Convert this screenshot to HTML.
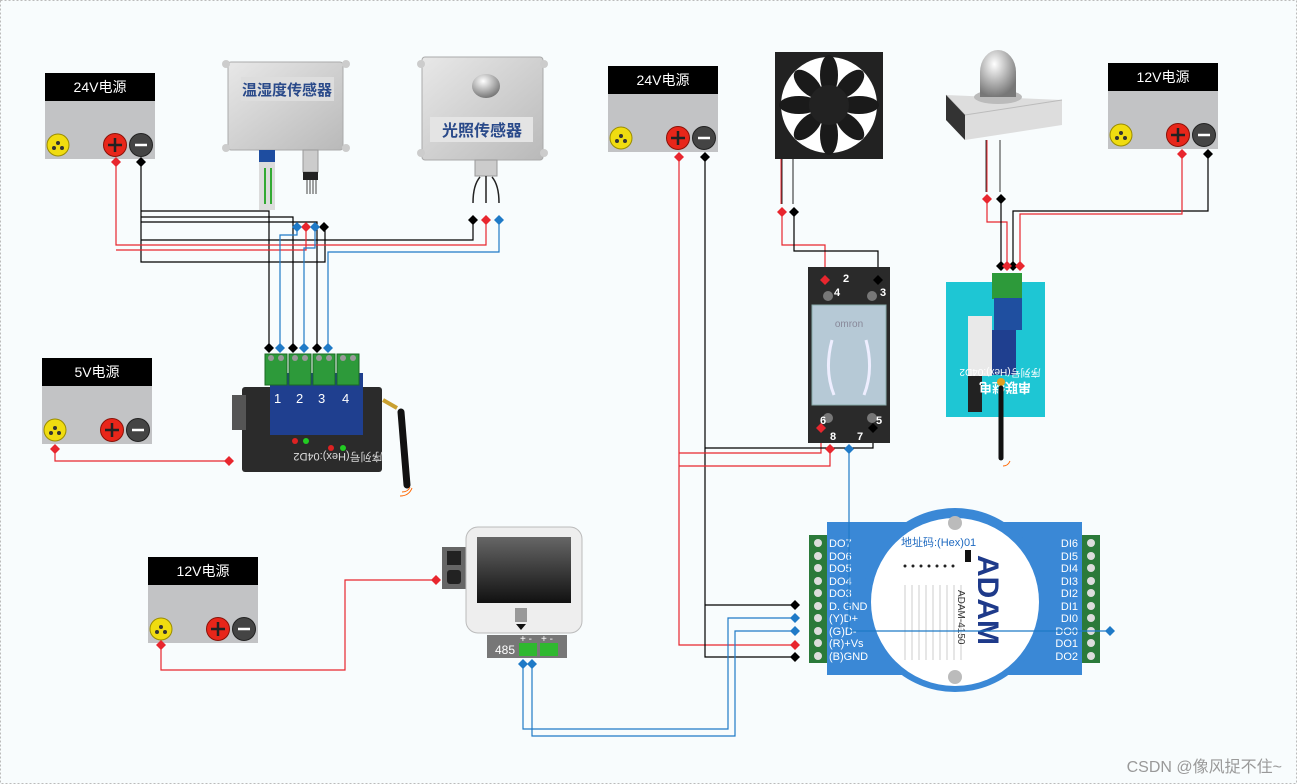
<!DOCTYPE html>
<html><head><meta charset="utf-8"><style>
html,body{margin:0;padding:0;background:#fff}
svg{display:block}
text{font-family:"Liberation Sans","Noto Sans CJK SC",sans-serif}
</style></head><body>
<svg width="1297" height="784" viewBox="0 0 1297 784" xmlns="http://www.w3.org/2000/svg">
<defs>
<linearGradient id="gs" x1="0" y1="0" x2="1" y2="1"><stop offset="0" stop-color="#e8e8e8"/><stop offset="1" stop-color="#b9b9b9"/></linearGradient>
<radialGradient id="ball" cx=".4" cy=".3" r=".7"><stop offset="0" stop-color="#fff"/><stop offset="1" stop-color="#777"/></radialGradient>
<linearGradient id="scr" x1="0" y1="0" x2="0" y2="1"><stop offset="0" stop-color="#666"/><stop offset="1" stop-color="#111"/></linearGradient>
<g id="psu">
<rect x="0" y="0" width="110" height="28" fill="#000"/>
<rect x="0" y="28" width="110" height="58" fill="#c2c3c5"/>
<circle cx="13" cy="72" r="11" fill="#f0dc10" stroke="#9a8c00"/>
<circle cx="13" cy="70" r="2" fill="#333"/><circle cx="9" cy="75" r="2" fill="#333"/><circle cx="17" cy="75" r="2" fill="#333"/>
<circle cx="70" cy="72" r="11.5" fill="#e8261a" stroke="#8a1208"/>
<path d="M63 72h14M70 65v14" stroke="#222" stroke-width="2.5"/>
<circle cx="96" cy="72" r="11.5" fill="#444" stroke="#222"/>
<path d="M90 72h12" stroke="#fff" stroke-width="2.5"/>
</g>
<path id="d" d="M0 -5L5 0L0 5L-5 0Z"/>
</defs>
<rect x="0" y="0" width="1297" height="784" fill="#f8fcfd"/>
<rect x="0.5" y="0.5" width="1296" height="783" fill="none" stroke="#bbb" stroke-dasharray="2 2"/>

<use href="#psu" x="45" y="73"/><text x="100" y="92" fill="#fff" font-size="14" text-anchor="middle">24V电源</text>
<use href="#psu" x="42" y="358"/><text x="97" y="377" fill="#fff" font-size="14" text-anchor="middle">5V电源</text>
<use href="#psu" x="148" y="557"/><text x="203" y="576" fill="#fff" font-size="14" text-anchor="middle">12V电源</text>
<use href="#psu" x="608" y="66"/><text x="663" y="85" fill="#fff" font-size="14" text-anchor="middle">24V电源</text>
<use href="#psu" x="1108" y="63"/><text x="1163" y="82" fill="#fff" font-size="14" text-anchor="middle">12V电源</text>

<!-- temp sensor -->
<rect x="228" y="62" width="115" height="88" rx="3" fill="url(#gs)" stroke="#aaa"/>
<circle cx="226" cy="64" r="4" fill="#ccc"/><circle cx="346" cy="64" r="4" fill="#ccc"/><circle cx="226" cy="148" r="4" fill="#ccc"/><circle cx="346" cy="148" r="4" fill="#ccc"/>
<rect x="241" y="77" width="93" height="24" fill="#ddd"/>
<text x="287" y="95" font-size="15" fill="#2a4a8a" text-anchor="middle" font-weight="bold">温湿度传感器</text>
<rect x="259" y="150" width="16" height="12" fill="#1e4da0"/>
<rect x="259" y="162" width="16" height="48" fill="#dcdcdc"/>
<rect x="264" y="168" width="2" height="36" fill="#3a3"/><rect x="270" y="168" width="2" height="36" fill="#3a3"/>
<rect x="303" y="150" width="15" height="22" fill="#ccc" stroke="#999"/>
<rect x="303" y="172" width="15" height="8" fill="#222"/>
<path d="M307 180v14M310 180v14M313 180v14M316 180v14" stroke="#444"/>

<!-- light sensor -->
<rect x="422" y="57" width="121" height="103" rx="3" fill="url(#gs)" stroke="#aaa"/>
<circle cx="421" cy="64" r="4" fill="#ccc"/><circle cx="544" cy="64" r="4" fill="#ccc"/><circle cx="421" cy="153" r="4" fill="#ccc"/><circle cx="544" cy="153" r="4" fill="#ccc"/>
<ellipse cx="486" cy="86" rx="14" ry="12" fill="url(#ball)"/>
<rect x="430" y="117" width="103" height="25" fill="#e4e4e4"/>
<text x="482" y="136" font-size="16" fill="#2a4a8a" text-anchor="middle" font-weight="bold">光照传感器</text>
<rect x="475" y="160" width="22" height="16" fill="#ccc" stroke="#999"/>
<path d="M473 203q0-18 7-26M486 203v-27M499 203q0-18-7-26" stroke="#222" fill="none" stroke-width="1.5"/>

<g fill="none" stroke-width="1.2">
<path d="M141 162V262H325V227" stroke="#000"/>
<path d="M141 211H269V348M141 217H293V348M141 222H317V348" stroke="#000"/>
<path d="M141 240H473V220" stroke="#000"/>
<path d="M116 162V245H486V220" stroke="#e8262e"/>
<path d="M116 250H306V227" stroke="#e8262e"/>
<path d="M297 227V235H280V348" stroke="#1f7ac7"/>
<path d="M315 227V248H304V348" stroke="#1f7ac7"/>
<path d="M499 220V252H328V348" stroke="#1f7ac7"/>
<path d="M55 449V461H229" stroke="#e8262e"/>
</g>
<g fill="#000"><use href="#d" x="141" y="162"/><use href="#d" x="324" y="227"/><use href="#d" x="473" y="220"/>
<use href="#d" x="269" y="348"/><use href="#d" x="293" y="348"/><use href="#d" x="317" y="348"/></g>
<g fill="#e8262e"><use href="#d" x="116" y="162"/><use href="#d" x="306" y="227"/><use href="#d" x="486" y="220"/><use href="#d" x="55" y="449"/><use href="#d" x="229" y="461"/></g>
<g fill="#1f7ac7"><use href="#d" x="297" y="227"/><use href="#d" x="315" y="227"/><use href="#d" x="499" y="220"/>
<use href="#d" x="280" y="348"/><use href="#d" x="304" y="348"/><use href="#d" x="328" y="348"/></g>

<!-- 4D2 board -->
<rect x="242" y="387" width="140" height="85" rx="3" fill="#2b2b2b"/>
<rect x="232" y="395" width="14" height="35" fill="#555"/>
<rect x="270" y="373" width="93" height="62" fill="#1f3f8f"/>
<g fill="#2d9a3a" stroke="#1a6a24"><rect x="265" y="354" width="22" height="31"/><rect x="289" y="354" width="22" height="31"/><rect x="313" y="354" width="22" height="31"/><rect x="337" y="354" width="22" height="31"/></g>
<g fill="#999"><circle cx="271" cy="358" r="3"/><circle cx="281" cy="358" r="3"/><circle cx="295" cy="358" r="3"/><circle cx="305" cy="358" r="3"/><circle cx="319" cy="358" r="3"/><circle cx="329" cy="358" r="3"/><circle cx="343" cy="358" r="3"/><circle cx="353" cy="358" r="3"/></g>
<g fill="#fff" font-size="13"><text x="274" y="403">1</text><text x="296" y="403">2</text><text x="318" y="403">3</text><text x="342" y="403">4</text></g>
<circle cx="295" cy="441" r="3" fill="#d22"/><circle cx="306" cy="441" r="3" fill="#2c2"/><circle cx="331" cy="448" r="3" fill="#d22"/><circle cx="343" cy="448" r="3" fill="#2c2"/>
<text x="338" y="461" fill="#ddd" font-size="11" text-anchor="middle" transform="rotate(180 338 457)">序列号(Hex):04D2</text>
<path d="M383 400l14 8" stroke="#c9a030" stroke-width="4"/>
<path d="M401 412L407 485" stroke="#111" stroke-width="7" stroke-linecap="round"/>
<path d="M402 492q6 0 8-5M400 496q9 0 12-8" stroke="#f60" fill="none"/>

<!-- fan -->
<rect x="775" y="52" width="108" height="107" fill="#222"/>
<circle cx="829" cy="105" r="48" fill="#fff"/>
<g fill="#1a1a1a"><ellipse cx="829" cy="75" rx="9" ry="20"/><ellipse cx="829" cy="135" rx="9" ry="20"/><ellipse cx="799" cy="105" rx="20" ry="9"/><ellipse cx="859" cy="105" rx="20" ry="9"/>
<ellipse cx="808" cy="84" rx="9" ry="18" transform="rotate(-45 808 84)"/><ellipse cx="850" cy="126" rx="9" ry="18" transform="rotate(-45 850 126)"/>
<ellipse cx="850" cy="84" rx="9" ry="18" transform="rotate(45 850 84)"/><ellipse cx="808" cy="126" rx="9" ry="18" transform="rotate(45 808 126)"/></g>
<circle cx="829" cy="105" r="20" fill="#222"/>
<path d="M782 159V204M793 159V204" stroke="#222"/><path d="M781 159V204" stroke="#e8262e"/>

<!-- alarm light -->
<path d="M946 95L1062 100L1062 125L965 140L946 120Z" fill="#ddd"/>
<path d="M946 95L965 115L1062 100" fill="none" stroke="#bbb"/>
<path d="M946 95L965 115V140L946 120Z" fill="#333"/>
<ellipse cx="998" cy="97" rx="24" ry="7" fill="#bbb"/>
<path d="M980 97V72a18 22 0 0 1 36 0V97Z" fill="url(#ball)"/>
<path d="M986 140V192M1000 140V192" stroke="#333"/><path d="M987 140V192" stroke="#e8262e"/>

<g fill="none" stroke-width="1.2">
<path d="M679 157V645H795" stroke="#e8262e"/>
<path d="M705 157V657H795M705 605H795" stroke="#000"/>
<path d="M679 453H821V428M679 466H830V449" stroke="#e8262e"/>
<path d="M705 448H873V428" stroke="#000"/>
<path d="M782 212V245H825V280" stroke="#e8262e"/>
<path d="M794 212V251H878V280" stroke="#000"/>
<path d="M987 199V222H1007V266" stroke="#e8262e"/>
<path d="M1001 199V266" stroke="#000"/>
<path d="M1208 154V211H1013V266" stroke="#000"/>
<path d="M1182 154V214H1020V266" stroke="#e8262e"/>
<path d="M161 645V670H345V580H436" stroke="#e8262e"/>
<path d="M523 664V729H728V618H795M532 664V736H735V631H795" stroke="#1f7ac7"/>
</g>

<!-- relay -->
<rect x="808" y="267" width="82" height="176" fill="#2a2a2a"/>
<rect x="812" y="305" width="74" height="100" fill="#b6c9d6" stroke="#8aa"/>
<text x="849" y="327" font-size="10" fill="#889" text-anchor="middle">omron</text>
<path d="M832 340q-8 30 2 55M866 340q8 30-2 55" stroke="#eef" stroke-width="3" fill="none"/>
<g fill="#777"><circle cx="828" cy="296" r="5"/><circle cx="872" cy="296" r="5"/><circle cx="828" cy="418" r="5"/><circle cx="872" cy="418" r="5"/></g>
<g fill="#fff" font-size="11" font-weight="bold"><text x="843" y="282">2</text><text x="880" y="296">3</text><text x="834" y="296">4</text><text x="820" y="424">6</text><text x="830" y="440">8</text><text x="857" y="440">7</text><text x="876" y="424">5</text></g>

<!-- relay module teal -->
<rect x="946" y="282" width="99" height="135" fill="#1ec6d4"/>
<rect x="992" y="273" width="30" height="26" fill="#2d9a3a"/>
<rect x="994" y="298" width="28" height="32" fill="#1f4fa0"/>
<rect x="968" y="316" width="24" height="60" fill="#e9e9e9"/>
<rect x="992" y="330" width="24" height="45" fill="#1f3f8f"/>
<rect x="968" y="376" width="14" height="36" fill="#222"/>
<text x="1000" y="377" fill="#fff" font-size="10" text-anchor="middle" transform="rotate(180 1000 373)">序列号(Hex):04D2</text>
<text x="1005" y="393" fill="#fff" font-size="13" font-weight="bold" text-anchor="middle" transform="rotate(180 1005 388)">串联继电</text>
<circle cx="1001" cy="382" r="4" fill="#e0a020"/>
<path d="M1001 388V458" stroke="#111" stroke-width="5" stroke-linecap="round"/>
<path d="M1003 466q5 0 7-5" stroke="#f60" fill="none"/>

<!-- display device -->
<rect x="442" y="547" width="24" height="42" fill="#666"/>
<rect x="447" y="551" width="14" height="14" fill="#222"/><rect x="447" y="570" width="14" height="14" fill="#222" rx="3"/>
<rect x="466" y="527" width="116" height="106" rx="12" fill="#eee" stroke="#bbb"/>
<rect x="477" y="537" width="94" height="66" fill="url(#scr)"/>
<rect x="515" y="608" width="12" height="14" fill="#999"/>
<path d="M516 624h10l-5 6z" fill="#111"/>
<rect x="487" y="635" width="80" height="23" fill="#777"/>
<text x="495" y="654" fill="#fff" font-size="12">485</text>
<rect x="519" y="643" width="18" height="13" fill="#2fb82f"/><rect x="540" y="643" width="18" height="13" fill="#2fb82f"/>
<text x="520" y="642" fill="#fff" font-size="10">+ -</text><text x="541" y="642" fill="#fff" font-size="10">+ -</text>

<!-- ADAM -->
<rect x="827" y="522" width="255" height="153" fill="#3a88d6"/>
<ellipse cx="955" cy="600" rx="92" ry="92" fill="#3a88d6"/>
<ellipse cx="955" cy="602" rx="84" ry="84" fill="#fff"/>
<rect x="809" y="535" width="18" height="128" fill="#2b7a3a"/>
<rect x="1082" y="535" width="18" height="128" fill="#2b7a3a"/>
<g fill="#ddd"><circle cx="818" cy="543" r="4"/><circle cx="818" cy="556" r="4"/><circle cx="818" cy="568" r="4"/><circle cx="818" cy="581" r="4"/><circle cx="818" cy="593" r="4"/><circle cx="818" cy="606" r="4"/><circle cx="818" cy="618" r="4"/><circle cx="818" cy="631" r="4"/><circle cx="818" cy="643" r="4"/><circle cx="818" cy="656" r="4"/>
<circle cx="1091" cy="543" r="4"/><circle cx="1091" cy="556" r="4"/><circle cx="1091" cy="568" r="4"/><circle cx="1091" cy="581" r="4"/><circle cx="1091" cy="593" r="4"/><circle cx="1091" cy="606" r="4"/><circle cx="1091" cy="618" r="4"/><circle cx="1091" cy="631" r="4"/><circle cx="1091" cy="643" r="4"/><circle cx="1091" cy="656" r="4"/></g>
<circle cx="955" cy="523" r="7" fill="#bbb"/><circle cx="955" cy="677" r="7" fill="#bbb"/>
<g fill="#fff" font-size="11"><text x="829" y="547">DO7</text><text x="829" y="560">DO6</text><text x="829" y="572">DO5</text><text x="829" y="585">DO4</text><text x="829" y="597">DO3</text><text x="829" y="610">D. GND</text><text x="829" y="622">(Y)D+</text><text x="829" y="635">(G)D-</text><text x="829" y="647">(R)+Vs</text><text x="829" y="660">(B)GND</text></g>
<g fill="#fff" font-size="11" text-anchor="end"><text x="1078" y="547">DI6</text><text x="1078" y="560">DI5</text><text x="1078" y="572">DI4</text><text x="1078" y="585">DI3</text><text x="1078" y="597">DI2</text><text x="1078" y="610">DI1</text><text x="1078" y="622">DI0</text><text x="1078" y="635">DO0</text><text x="1078" y="647">DO1</text><text x="1078" y="660">DO2</text></g>
<g fill="#111"><rect x="965" y="550" width="6" height="12"/></g>
<g fill="#222"><circle cx="905" cy="566" r="1.5"/><circle cx="913" cy="566" r="1.5"/><circle cx="921" cy="566" r="1.5"/><circle cx="929" cy="566" r="1.5"/><circle cx="937" cy="566" r="1.5"/><circle cx="945" cy="566" r="1.5"/><circle cx="953" cy="566" r="1.5"/></g>
<path d="M905 585V660M912 585V660M919 585V660M926 585V660M933 585V660M940 585V660M947 585V660M954 585V660M961 585V660" stroke="#ccc"/>
<text x="978" y="555" fill="#1e3a8a" font-size="30" font-weight="bold" transform="rotate(90 978 555)">ADAM</text>
<text x="958" y="590" fill="#333" font-size="10" transform="rotate(90 958 590)">ADAM-4150</text>
<text x="901" y="546" fill="#1f6ac0" font-size="11">地址码:(Hex)01</text>
<path d="M849 449V631H1110" stroke="#1f7ac7" stroke-width="1.2" fill="none"/>

<g fill="#000"><use href="#d" x="705" y="157"/><use href="#d" x="794" y="212"/><use href="#d" x="878" y="280"/><use href="#d" x="873" y="428"/><use href="#d" x="1001" y="199"/><use href="#d" x="1208" y="154"/><use href="#d" x="1001" y="266"/><use href="#d" x="1013" y="266"/><use href="#d" x="795" y="605"/><use href="#d" x="795" y="657"/></g>
<g fill="#e8262e"><use href="#d" x="679" y="157"/><use href="#d" x="782" y="212"/><use href="#d" x="825" y="280"/><use href="#d" x="821" y="428"/><use href="#d" x="830" y="449"/><use href="#d" x="987" y="199"/><use href="#d" x="1182" y="154"/><use href="#d" x="1007" y="266"/><use href="#d" x="1020" y="266"/><use href="#d" x="795" y="645"/><use href="#d" x="161" y="645"/><use href="#d" x="436" y="580"/></g>
<g fill="#1f7ac7"><use href="#d" x="849" y="449"/><use href="#d" x="795" y="618"/><use href="#d" x="795" y="631"/><use href="#d" x="1110" y="631"/><use href="#d" x="523" y="664"/><use href="#d" x="532" y="664"/></g>

<text x="1282" y="772" fill="#999" font-size="16" text-anchor="end">CSDN @像风捉不住~</text>
</svg>
</body></html>
